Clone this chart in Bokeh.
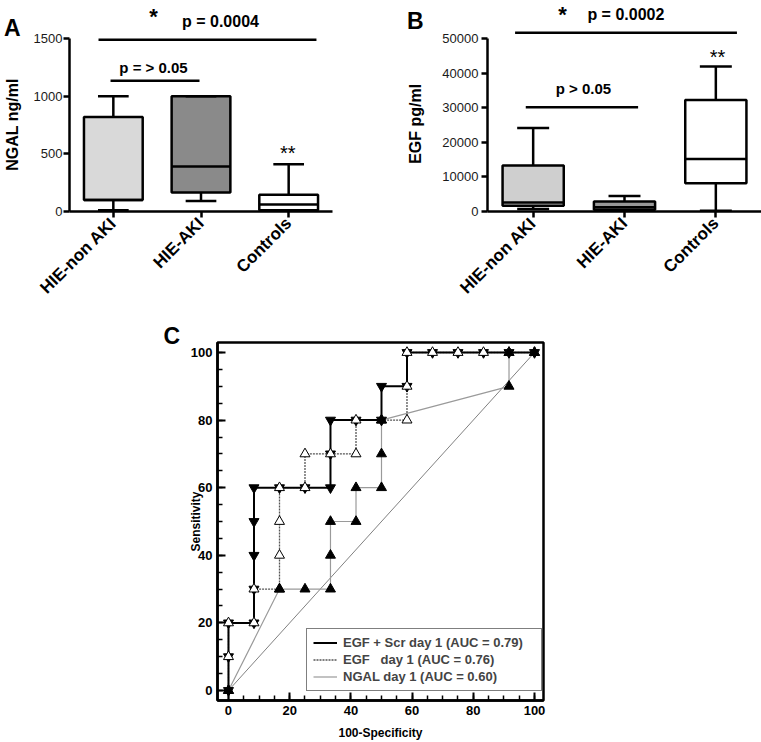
from math import pi
import numpy as np
from bokeh.plotting import figure
from bokeh.models import Range1d, FixedTicker, Legend, LegendItem, Spacer
from bokeh.layouts import column, row
from bokeh.core.properties import value
from bokeh.embed import file_html
from bokeh.resources import INLINE

FONT = "Liberation Sans"

# ---------------- data ----------------
categories = ["HIE-non AKI", "HIE-AKI", "Controls"]
positions = [1, 2, 3]

ngal_low = [10, 90, 0]
ngal_q1 = [100, 165, 10]
ngal_median = [100, 390, 60]
ngal_q3 = [820, 1000, 145]
ngal_high = [1000, 1000, 410]
ngal_fill = ["#d9d9d9", "#8a8a8a", "#ffffff"]
ngal_ticks = [0, 500, 1000, 1500]

egf_low = [700, 200, 200]
egf_q1 = [1700, 500, 8200]
egf_median = [2600, 1200, 15200]
egf_q3 = [13300, 2900, 32300]
egf_high = [24200, 4500, 42000]
egf_fill = ["#cfcfcf", "#999999", "#ffffff"]
egf_ticks = [0, 10000, 20000, 30000, 40000, 50000]

roc_scr_x = [0, 0, 0, 8.33, 8.33, 8.33, 8.33, 8.33, 16.67, 25, 33.33, 33.33, 33.33,
             41.67, 50, 50, 58.33, 58.33, 66.67, 75, 83.33, 91.67, 100]
roc_scr_y = [0, 10, 20, 20, 30, 40, 50, 60, 60, 60, 60, 70, 80,
             80, 80, 90, 90, 100, 100, 100, 100, 100, 100]

roc_egf_x = [0, 0, 0, 8.33, 8.33, 16.67, 16.67, 16.67, 16.67, 25, 25, 33.33, 41.67,
             41.67, 50, 58.33, 58.33, 58.33, 66.67, 75, 83.33, 91.67, 100]
roc_egf_y = [0, 10, 20, 20, 30, 30, 40, 50, 60, 60, 70, 70, 70,
             80, 80, 80, 90, 100, 100, 100, 100, 100, 100]

roc_ngal_x = [0, 16.67, 25, 33.33, 33.33, 33.33, 41.67, 41.67, 50, 50, 50, 91.67, 91.67, 100]
roc_ngal_y = [0, 30, 30, 30, 40, 50, 50, 60, 60, 70, 80, 90, 100, 100]

ref_x = [0, 100]
ref_y = [0, 100]

roc_labels = ["EGF + Scr day 1 (AUC = 0.79)", "EGF   day 1 (AUC = 0.76)", "NGAL day 1 (AUC = 0.60)"]
roc_ticks = [0, 20, 40, 60, 80, 100]
roc_minor_ticks = [0, 5, 10, 15, 20, 25, 30, 35, 40, 45, 50, 55, 60, 65, 70, 75, 80, 85, 90, 95, 100]

BOX_W = 0.67
CAP_W = 0.35
LW = 2.5

ROW1_H = 310
ROW1_BB = 99           # bottom border of row 1 plots (frames are aligned across the row)
ROW1_FRAME = ROW1_H - ROW1_BB


def text_strip(width, items):
    """A narrow figure whose frame is aligned with its row neighbours; y in pixels from the top."""
    s = figure(width=width, height=ROW1_H, x_range=Range1d(0, width), y_range=Range1d(ROW1_FRAME, 0),
               x_axis_type=None, y_axis_type=None, output_backend="svg", toolbar_location=None,
               min_border_left=0, min_border_right=0, min_border_top=0, min_border_bottom=ROW1_BB)
    s.grid.visible = False
    s.outline_line_color = None
    for x, y, text, size, angle in items:
        s.text(x=[x], y=[y], text=[text], angle=angle, text_font=value(FONT),
               text_font_style="bold", text_font_size=size, text_align="center",
               text_baseline="middle", text_color="black")
    return s


def box_panel(width, bl, br, x_end, y_end, ticks, low, q1, med, q3, high, fills, standoff):
    p = figure(width=width, height=ROW1_H, x_range=Range1d(0.5, x_end), y_range=Range1d(0, y_end),
               output_backend="svg", toolbar_location=None,
               min_border_left=bl, min_border_right=br, min_border_top=0, min_border_bottom=ROW1_BB)
    p.grid.visible = False
    p.outline_line_color = None
    pos = np.array(positions, dtype=float)
    p.segment(x0=pos, y0=low, x1=pos, y1=high, line_color="black", line_width=LW)
    p.vbar(x=pos, width=BOX_W, bottom=q1, top=q3, fill_color=fills, line_color="black", line_width=LW)
    p.segment(x0=pos - BOX_W / 2, y0=med, x1=pos + BOX_W / 2, y1=med, line_color="black", line_width=LW)
    p.segment(x0=pos - CAP_W / 2, y0=high, x1=pos + CAP_W / 2, y1=high, line_color="black", line_width=LW)
    p.segment(x0=pos - CAP_W / 2, y0=low, x1=pos + CAP_W / 2, y1=low, line_color="black", line_width=LW)

    for ax in (p.xaxis[0], p.yaxis[0]):
        ax.axis_line_width = LW
        ax.axis_line_color = "black"
        ax.major_tick_line_width = LW
        ax.major_tick_line_color = "black"
        ax.major_tick_out = 6
        ax.major_tick_in = 0
        ax.minor_tick_line_color = None
    p.yaxis.ticker = FixedTicker(ticks=ticks)
    p.yaxis.bounds = (0, ticks[-1])
    p.yaxis.major_label_text_font = FONT
    p.yaxis.major_label_text_font_size = "13px"
    p.yaxis.major_label_text_color = "#1a1a1a"
    p.yaxis.major_label_standoff = standoff
    p.yaxis[0].formatter.use_scientific = False
    p.xaxis.ticker = FixedTicker(ticks=positions)
    p.xaxis.major_label_overrides = {pp: c for pp, c in zip(positions, categories)}
    p.xaxis.major_label_orientation = pi / 4
    p.xaxis.major_label_text_font = FONT
    p.xaxis.major_label_text_font_style = "bold"
    p.xaxis.major_label_text_font_size = "17px"
    p.xaxis.major_label_text_color = "black"
    p.xaxis.major_label_standoff = 3
    return p


def add_text(p, x, y, text, size="16px", style="bold"):
    p.text(x=[x], y=[y], text=[text], text_font=value(FONT), text_font_style=style,
           text_font_size=size, text_align="center", text_baseline="middle", text_color="black")


def add_bar(p, x0, x1, y):
    p.segment(x0=[x0], y0=[y], x1=[x1], y1=[y], line_color="black", line_width=LW)


# ---------------- panel A ----------------
stripA = text_strip(24, [(11.7, 27.5, "A", "23px", 0),
                         (11.7, 124, "NGAL ng/ml", "16px", pi / 2)])
pA = box_panel(356, 45, 48, 3.5, 1829.5, ngal_ticks, ngal_low, ngal_q1, ngal_median,
               ngal_q3, ngal_high, ngal_fill, 1)
add_bar(pA, 0.831, 3.317, 1490)
add_text(pA, 2.222, 1650, "p = 0.0004")
add_text(pA, 1.458, 1691, "*", size="22px", style="bold")
add_bar(pA, 0.968, 1.983, 1133)
add_text(pA, 1.458, 1251, "p = > 0.05", size="15px")
add_text(pA, 2.99, 505, "**", size="20px", style="normal")

# ---------------- panel B ----------------
stripB = text_strip(52, [(34.7, 20.8, "B", "23px", 0),
                         (35.3, 123.3, "EGF pg/ml", "16px", pi / 2)])
pB = box_panel(329, 55, 0, 3.5, 61090, egf_ticks, egf_low, egf_q1, egf_median,
               egf_q3, egf_high, egf_fill, 3)
add_bar(pB, 0.802, 3.231, 51740)
add_text(pB, 2.015, 57035, "p = 0.0002")
add_text(pB, 1.321, 57180, "*", size="22px", style="bold")
add_bar(pB, 0.919, 2.149, 30200)
add_text(pB, 1.551, 35520, "p > 0.05", size="15px")
add_text(pB, 3.019, 44670, "**", size="20px", style="normal")

# ---------------- panel C ----------------
ROW2_H = 432
pC = figure(width=403, height=ROW2_H, x_range=Range1d(-3.59, 102.94), y_range=Range1d(-2.96, 102.96),
            output_backend="svg", toolbar_location=None, title="C",
            min_border_left=67, min_border_right=10, min_border_top=32, min_border_bottom=42)
pC.title.align = "left"
pC.title.offset = -54
pC.title.standoff = -13
pC.title.text_font = FONT
pC.title.text_font_style = "bold"
pC.title.text_font_size = "23px"
pC.title.text_color = "black"
pC.grid.visible = False
pC.outline_line_color = "black"
pC.outline_line_width = LW
pC.outline_line_alpha = 1

pC.line(ref_x, ref_y, line_color="#808080", line_width=1)
r_ngal = pC.line(roc_ngal_x, roc_ngal_y, line_color="#9a9a9a", line_width=1.2)
r_egf = pC.line(roc_egf_x, roc_egf_y, line_color="#555555", line_width=1.3, line_dash="2 1")
r_scr = pC.line(roc_scr_x, roc_scr_y, line_color="black", line_width=2)
pC.scatter(roc_scr_x, roc_scr_y, marker="inverted_triangle", size=10, fill_color="black",
           line_color="black")
pC.scatter(roc_egf_x, roc_egf_y, marker="triangle", size=10, fill_color="white",
           line_color="black", line_width=1)
pC.scatter(roc_ngal_x, roc_ngal_y, marker="triangle", size=10, fill_color="black",
           line_color="black")

for ax in (pC.xaxis[0], pC.yaxis[0]):
    ax.ticker = FixedTicker(ticks=roc_ticks, minor_ticks=roc_minor_ticks)
    ax.axis_line_width = LW
    ax.major_tick_in = 8
    ax.major_tick_out = 0
    ax.minor_tick_in = 5
    ax.minor_tick_out = 0
    ax.major_tick_line_width = 2
    ax.minor_tick_line_width = 1.5
    ax.major_tick_line_color = "black"
    ax.minor_tick_line_color = "black"
    ax.major_label_text_font = FONT
    ax.major_label_text_font_style = "bold"
    ax.major_label_text_font_size = "13px"
    ax.major_label_text_color = "black"
    ax.major_label_standoff = 5
    ax.axis_label_text_font = FONT
    ax.axis_label_text_font_style = "bold"
    ax.axis_label_text_font_size = "12px"
    ax.axis_label_text_color = "black"
pC.yaxis.axis_label = "Sensitivity"
pC.yaxis.axis_label_standoff = -15
pC.xaxis.axis_label = "100-Specificity"
pC.xaxis.axis_label_standoff = 8

legend = Legend(items=[LegendItem(label=roc_labels[0], renderers=[r_scr]),
                       LegendItem(label=roc_labels[1], renderers=[r_egf]),
                       LegendItem(label=roc_labels[2], renderers=[r_ngal])],
                location=(89, 9), label_text_font=FONT, label_text_font_style="bold",
                label_text_font_size="13px", glyph_width=24, glyph_height=15, label_height=15,
                label_width=192, label_standoff=6, spacing=2, padding=6, margin=0,
                border_line_color="black", border_line_width=1.5,
                background_fill_color="white", background_fill_alpha=1)
pC.add_layout(legend)

layout = column(row(stripA, pA, stripB, pB),
                row(Spacer(width=150, height=ROW2_H), pC))

open("out.html", "w").write(file_html(layout, INLINE))
